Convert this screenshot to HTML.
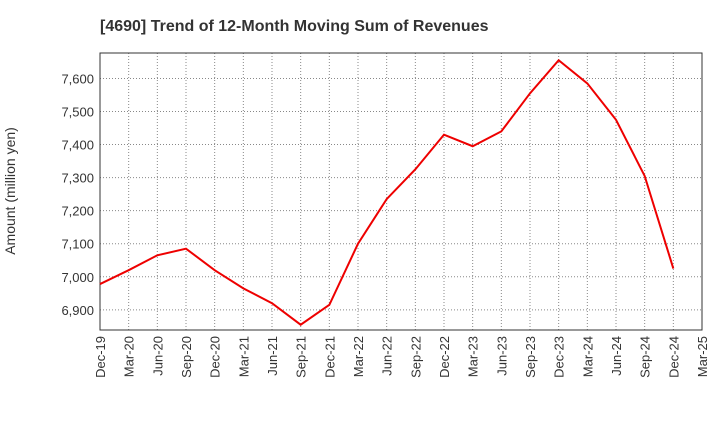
<!DOCTYPE html>
<html><head><meta charset="utf-8"><style>
body{margin:0;background:#fff;font-family:"Liberation Sans",sans-serif}
</style></head><body>
<svg id="chart" width="720" height="440" xmlns="http://www.w3.org/2000/svg" font-family="Liberation Sans, sans-serif">
<text x="100" y="31" font-size="16" font-weight="bold" fill="#333">[4690]  Trend of 12-Month Moving Sum of Revenues</text>
<text transform="translate(15,191) rotate(-90)" text-anchor="middle" font-size="14" fill="#333">Amount (million yen)</text>
<g id="grid"></g><g id="axes"></g><g id="series"></g>
</svg>
<script>
const categories=["Dec-19","Mar-20","Jun-20","Sep-20","Dec-20","Mar-21","Jun-21","Sep-21","Dec-21","Mar-22","Jun-22","Sep-22","Dec-22","Mar-23","Jun-23","Sep-23","Dec-23","Mar-24","Jun-24","Sep-24","Dec-24","Mar-25"];
const revenues=[6978,7020,7065,7085,7020,6965,6920,6855,6915,7100,7235,7325,7430,7395,7440,7555,7655,7585,7475,7305,7025];
const yTicks=[6900,7000,7100,7200,7300,7400,7500,7600];
const NS="http://www.w3.org/2000/svg";
const L=100,R=702,T=53,B=330,yMin=6839,yMax=7677;
const x=i=>L+(R-L)*i/(categories.length-1);
const y=v=>B-(v-yMin)/(yMax-yMin)*(B-T);
function mk(tag,attrs,parent){const e=document.createElementNS(NS,tag);for(const k in attrs)e.setAttribute(k,attrs[k]);document.getElementById(parent).appendChild(e);return e;}
categories.forEach((c,i)=>{
 const g=mk('line',{x1:x(i),x2:x(i),y1:T,y2:B,stroke:'#888','stroke-dasharray':'1,2','stroke-width':1},'grid');
 
 
 const t=mk('text',{transform:`translate(${x(i)+5},${B+6}) rotate(-90)`,'text-anchor':'end','font-size':13,fill:'#333'},'axes');
 t.textContent=c;
 
 
});
yTicks.forEach(v=>{
 const g=mk('line',{x1:L,x2:R,y1:y(v),y2:y(v),stroke:'#888','stroke-dasharray':'1,2','stroke-width':1},'grid');
 
 
 const t=mk('text',{x:L-6,y:y(v)+5,'text-anchor':'end','font-size':13,fill:'#333'},'axes');
 t.textContent=v.toLocaleString('en-US');
 
 
});
const f=mk('rect',{x:L,y:T,width:R-L,height:B-T,fill:'none',stroke:'#333','stroke-width':1},'axes');


const p=mk('polyline',{points:revenues.map((v,i)=>x(i)+','+y(v)).join(' '),fill:'none',stroke:'#e00','stroke-width':2},'series');


</script>
</body></html>
